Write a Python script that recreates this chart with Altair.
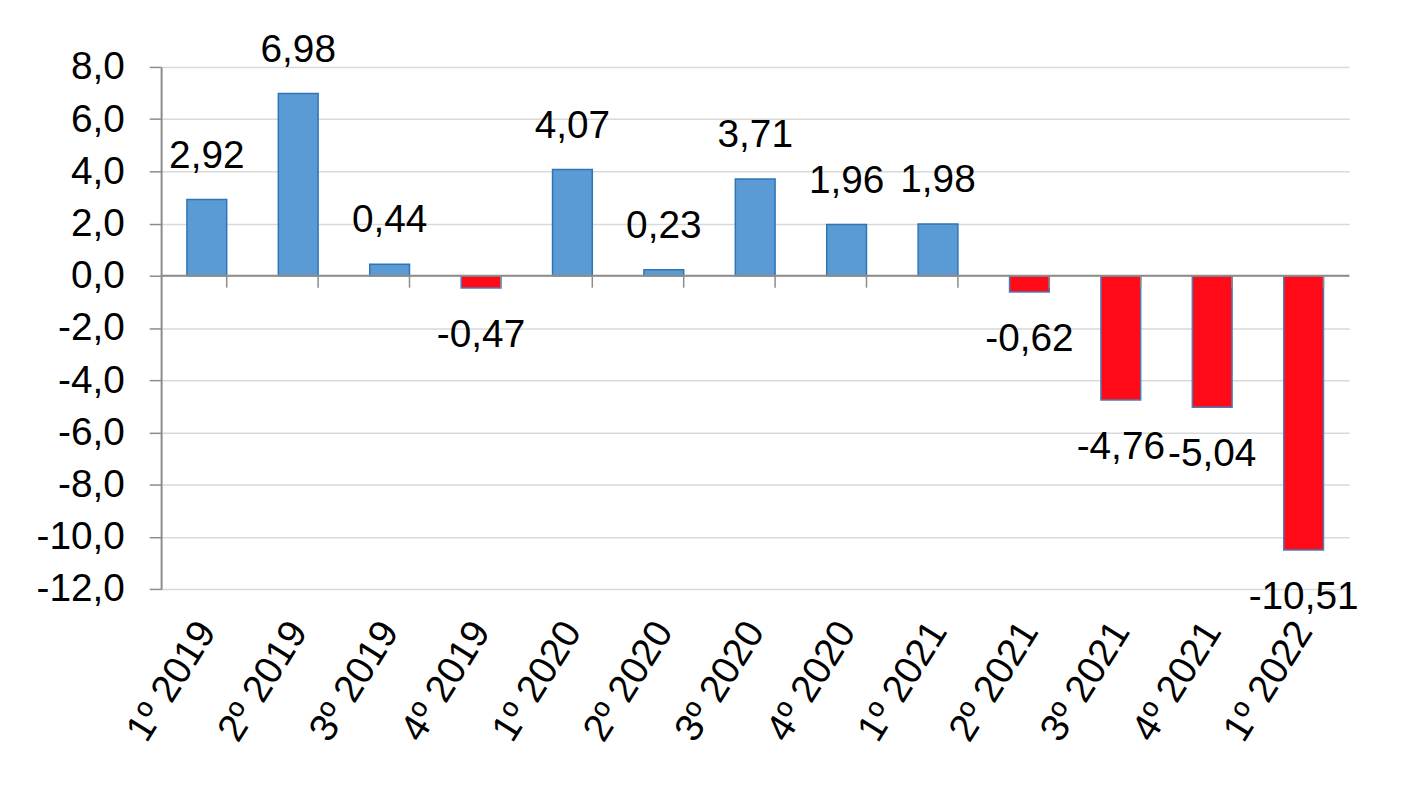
import altair as alt
import pandas as pd

categories = ["1º 2019", "2º 2019", "3º 2019", "4º 2019", "1º 2020", "2º 2020", "3º 2020",
              "4º 2020", "1º 2021", "2º 2021", "3º 2021", "4º 2021", "1º 2022"]
values = [2.92, 6.98, 0.44, -0.47, 4.07, 0.23, 3.71, 1.96, 1.98, -0.62, -4.76, -5.04, -10.51]
y_ticks = [-12, -10, -8, -6, -4, -2, 0, 2, 4, 6, 8]

df = pd.DataFrame({
    "cat": categories,
    "val": values,
    "lbl": [f"{v:.2f}".replace(".", ",") for v in values],
    "sign": ["pos" if v >= 0 else "neg" for v in values],
})

FONT = "Liberation Sans"
FS = 39

x_enc = alt.X("cat:N", sort=categories,
              scale=alt.Scale(paddingInner=0.565, paddingOuter=0.2825),
              axis=alt.Axis(title=None, domain=False, ticks=False, grid=False,
                            labelAngle=-58, labelAlign="right", labelBaseline="middle",
                            labelPadding=36, labelFontSize=FS, labelFont=FONT,
                            labelColor="#000000"))
y_scale = alt.Scale(domain=[-12, 8], nice=False)

bars = alt.Chart(df).mark_bar(strokeWidth=1.5).encode(
    x=x_enc,
    y=alt.Y("val:Q", scale=y_scale,
            axis=alt.Axis(title=None, values=y_ticks,
                          labelExpr="replace(replace(format(datum.value, '.1f'), '.', ','), '\u2212', '-')",
                          labelFontSize=FS, labelFont=FONT, labelColor="#000000",
                          labelPadding=25, tickSize=12, tickColor="#8c8c8c", tickWidth=1.5,
                          domainColor="#8c8c8c", domainWidth=2,
                          gridColor="#d9d9d9", gridWidth=1.5)),
    fill=alt.Fill("sign:N", scale=alt.Scale(domain=["pos", "neg"], range=["#5b9bd5", "#ff0a16"]),
                  legend=None),
    stroke=alt.Stroke("sign:N", scale=alt.Scale(domain=["pos", "neg"], range=["#2e75b6", "#4a7ebb"]),
                      legend=None),
)

zero = alt.Chart(pd.DataFrame({"z": [0]})).mark_rule(color="#8c8c8c", strokeWidth=2).encode(
    y=alt.Y("z:Q", scale=y_scale)
)

ticks = alt.Chart(df).mark_rule(color="#8c8c8c", strokeWidth=1.5, y2Offset=12).encode(
    x=alt.X("cat:N", sort=categories, bandPosition=1),
    y=alt.datum(0),
    y2=alt.datum(0),
)

pos_lbl = alt.Chart(df).transform_filter("datum.val >= 0").mark_text(
    font=FONT, fontSize=FS, color="#000000", baseline="middle", dy=-44
).encode(x=alt.X("cat:N", sort=categories), y="val:Q", text="lbl:N")

neg_lbl = alt.Chart(df).transform_filter("datum.val < 0").mark_text(
    font=FONT, fontSize=FS, color="#000000", baseline="middle", dy=47
).encode(x=alt.X("cat:N", sort=categories), y="val:Q", text="lbl:N")

chart = alt.layer(bars, zero, ticks, pos_lbl, neg_lbl).properties(
    width=1195, height=525,
    autosize=alt.AutoSizeParams(type="none"),
    padding={"left": 154, "top": 57, "right": 54, "bottom": 210},
    background="#ffffff",
).configure_view(stroke=None)

chart.save("out.html", embed_options={"renderer": "svg", "actions": False})
